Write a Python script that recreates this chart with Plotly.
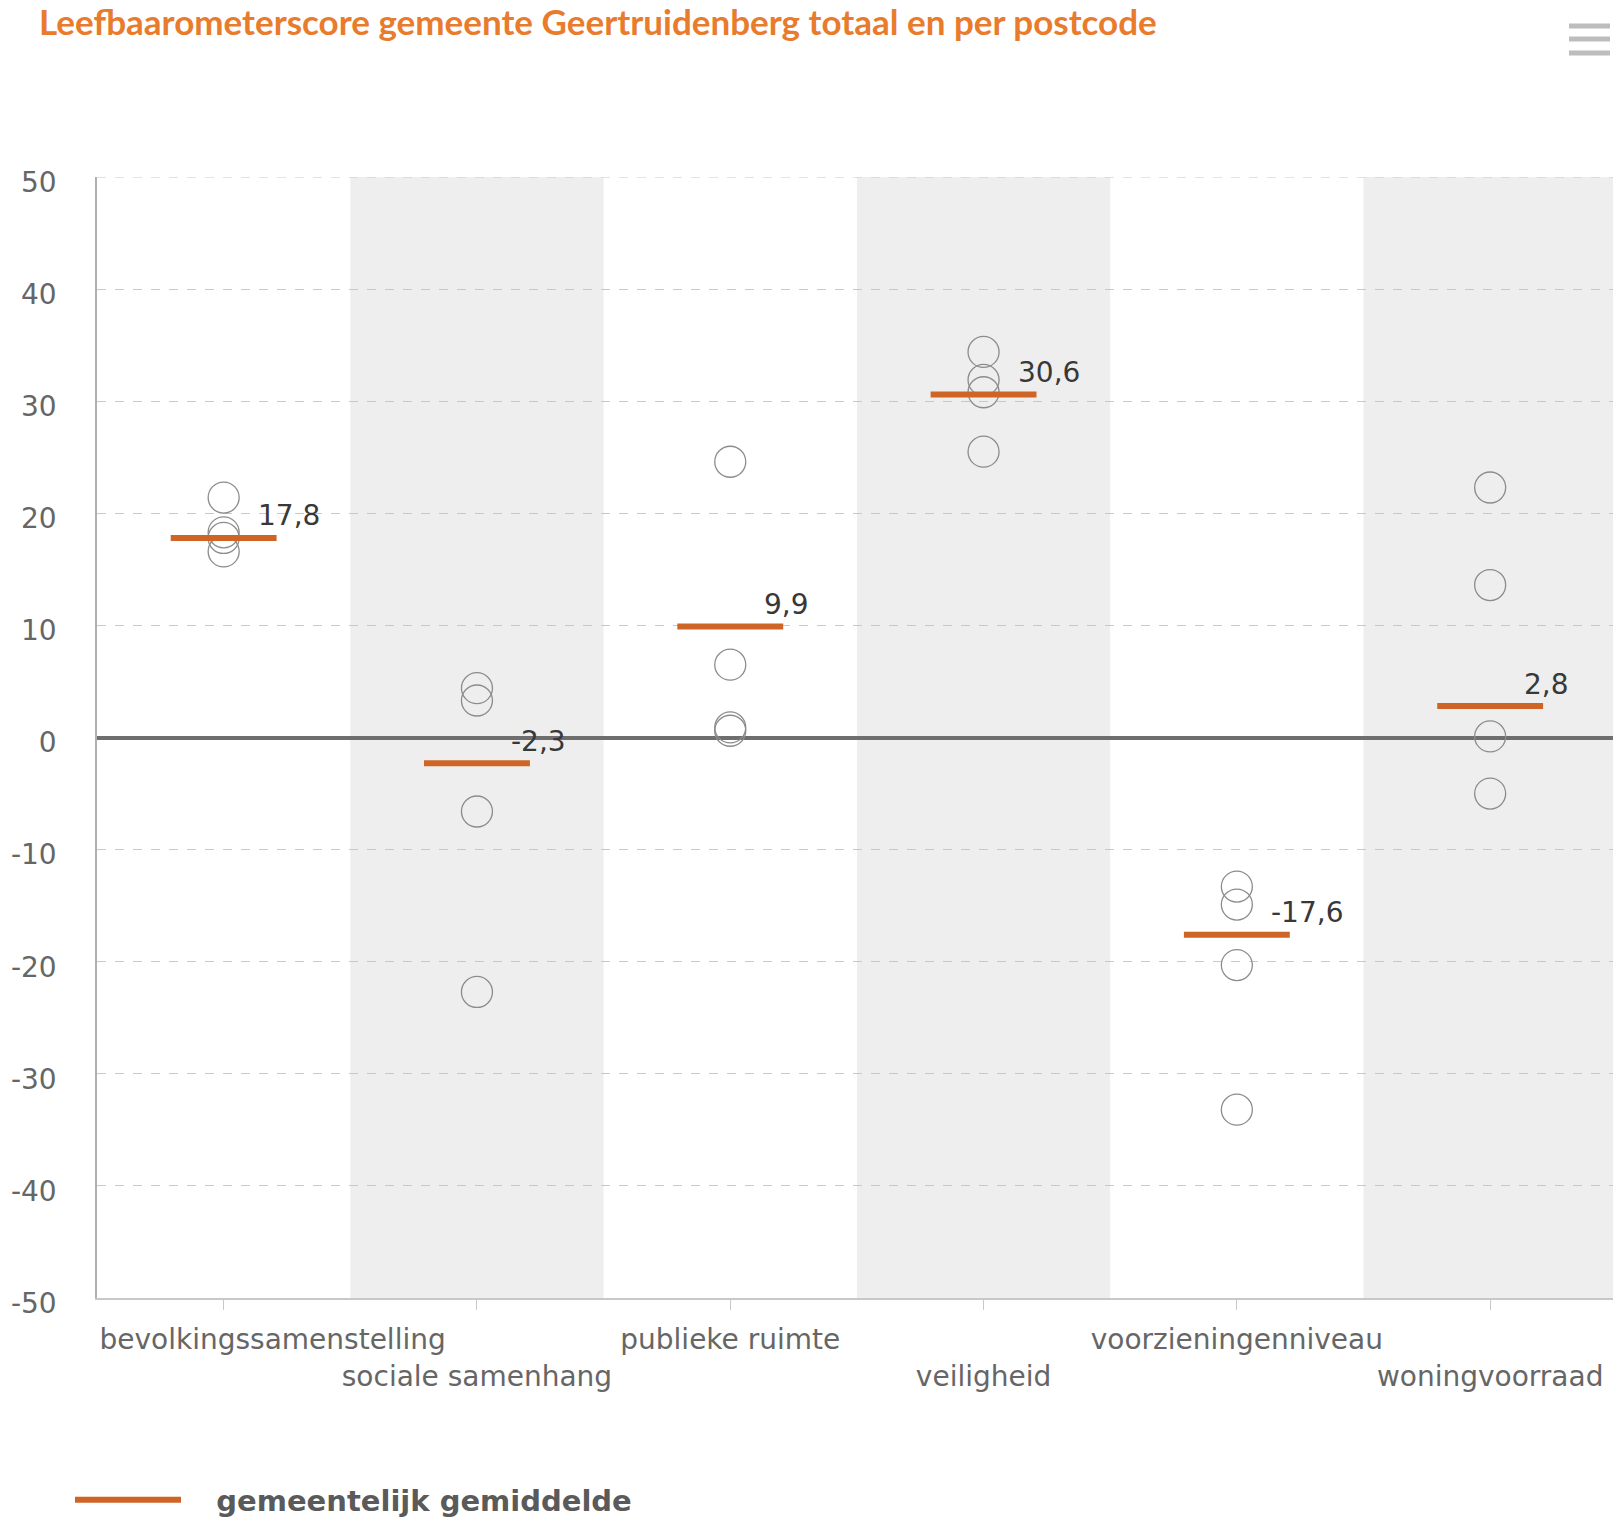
import plotly.graph_objects as go

# ---------------- data ----------------
categories = [
    "bevolkingssamenstelling",
    "sociale samenhang",
    "publieke ruimte",
    "veiligheid",
    "voorzieningenniveau",
    "woningvoorraad",
]
gemiddelde = [17.8, -2.3, 9.9, 30.6, -17.6, 2.8]
postcode_bevolking = [21.4, 18.3, 17.8, 16.6]
postcode_sociaal = [4.4, 3.3, -6.6, -22.7]
postcode_publiek = [24.6, 6.5, 0.9, 0.6]
postcode_veiligheid = [34.4, 31.9, 30.8, 25.5]
postcode_voorziening = [-13.3, -14.9, -20.3, -33.2]
postcode_woning = [22.3, 13.6, 0.1, -5.0]
postcode_scores = [postcode_bevolking, postcode_sociaal, postcode_publiek,
                   postcode_veiligheid, postcode_voorziening, postcode_woning]
y_ticks = [50, 40, 30, 20, 10, 0, -10, -20, -30, -40, -50]
y_ticktext = [str(v) for v in y_ticks]

title_text = "Leefbaarometerscore gemeente Geertruidenberg totaal en per postcode"
legend_text = "gemeentelijk gemiddelde"

# ---------------- style ----------------
ORANGE_TITLE = "#E97B2D"
ORANGE = "#CF6427"
CIRCLE = "#8c8c8c"
BAND = "#eeeeee"
GRID = "#c8c8c8"
FONT = "DejaVu Sans"

W, H = 1613, 1518
ML, MR, MT, MB = 97, 0, 177, 220
plot_w = W - ML - MR
plot_h = H - MT - MB
cat_px = 253.3
x_max = -0.5 + plot_w / cat_px
half_w = 0.209

fig = go.Figure()

# postcode circles
for i, scores in enumerate(postcode_scores):
    fig.add_trace(go.Scatter(
        x=[i] * len(scores), y=scores, mode="markers",
        marker=dict(symbol="circle-open", size=31, color=CIRCLE,
                    line=dict(width=1.3, color=CIRCLE)),
        showlegend=False, hoverinfo="y",
    ))

# municipal averages as short horizontal segments
seg_x, seg_y = [], []
for i, m in enumerate(gemiddelde):
    seg_x += [i - half_w, i + half_w, None]
    seg_y += [m, m, None]
fig.add_trace(go.Scatter(
    x=seg_x, y=seg_y, mode="lines", name="\u00a0\u00a0\u00a0" + legend_text,
    line=dict(color=ORANGE, width=6), showlegend=True,
))

# alternating background bands
shapes = []
for i in range(len(categories)):
    if i % 2 == 1:
        shapes.append(dict(type="rect", xref="x", yref="paper",
                           x0=i - 0.5, x1=i + 0.5, y0=0, y1=1,
                           fillcolor=BAND, line=dict(width=0), layer="below"))

# top gridline (plotly drops gridlines at the range ends)
shapes.append(dict(type="line", xref="paper", yref="y",
                   x0=0, x1=1, y0=max(y_ticks), y1=max(y_ticks),
                   line=dict(color=GRID, width=1, dash="dash"), layer="below"))

# export menu icon (decorative)
def px_to_paper(X, Y):
    return (X - ML) / plot_w, (H - MB - Y) / plot_h

for yy in (26, 39, 53):
    x0, y0 = px_to_paper(1569, yy)
    x1, _ = px_to_paper(1610, yy)
    shapes.append(dict(type="line", xref="paper", yref="paper",
                       x0=x0, x1=x1, y0=y0, y1=y0,
                       line=dict(color="#bdbdbd", width=5)))

# data labels
annotations = []
for i, m in enumerate(gemiddelde):
    annotations.append(dict(
        x=i, y=m, xref="x", yref="y", text=f"{m:.1f}".replace(".", ","),
        showarrow=False, xanchor="left", yanchor="middle",
        xshift=32, yshift=22,
        font=dict(family=FONT, size=28, color="#383838"),
    ))

ticktext = []
for i, c in enumerate(categories):
    if i == 0:
        ticktext.append("\u00a0" * 11 + c)
    elif i % 2 == 1:
        ticktext.append("<br>" + c)
    else:
        ticktext.append(c)

fig.update_layout(
    width=W, height=H,
    margin=dict(l=ML, r=MR, t=MT, b=MB, autoexpand=False),
    paper_bgcolor="white", plot_bgcolor="white",
    title=dict(text=title_text, x=39 / W, xref="container", xanchor="left",
               y=1 - 23 / H, yref="container", yanchor="middle",
               font=dict(family="Lato", size=35, color=ORANGE_TITLE, weight="bold")),
    xaxis=dict(range=[-0.5, x_max], tickmode="array",
               tickvals=list(range(len(categories))), ticktext=ticktext,
               tickangle=0,
               showgrid=False, zeroline=False,
               showline=True, linecolor="#c8c8c8", linewidth=1.5,
               ticks="outside", ticklen=10, tickcolor="#c8c8c8", tickwidth=1,
               tickfont=dict(family=FONT, size=28, color="#666666"),
               ticklabelstandoff=6, fixedrange=True),
    yaxis=dict(range=[-50, 50], tickmode="array", tickvals=y_ticks, ticktext=y_ticktext,
               showgrid=True, gridcolor=GRID, gridwidth=1, griddash="dash",
               zeroline=True, zerolinecolor="#6e6e6e", zerolinewidth=4,
               showline=True, linecolor="#b0b0b0", linewidth=1.5,
               ticks="", tickfont=dict(family=FONT, size=28, color="#666666"),
               ticklabelstandoff=33, ticklabelshift=5, fixedrange=True),
    showlegend=True,
    legend=dict(orientation="h", xref="container", yref="container",
                x=70 / W, y=1 - 1500 / H, xanchor="left", yanchor="middle",
                itemwidth=106, bgcolor="rgba(0,0,0,0)",
                font=dict(family=FONT, size=29, color="#5a5a5a", weight="bold")),
    shapes=shapes, annotations=annotations,
)

fig.write_html("out.html", config={"displayModeBar": False},
               post_script="document.body.style.margin='0px';document.body.style.overflow='hidden';")
